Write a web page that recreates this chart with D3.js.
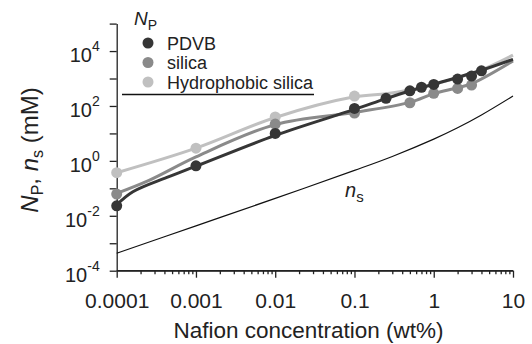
<!DOCTYPE html>
<html lang="en">
<head>
<meta charset="utf-8">
<title>Nafion concentration</title>
<style>
  body { margin: 0; background: #fff; }
  svg text { font-family: "Liberation Sans", Arial, sans-serif; fill: #222; }
  .axis path, .axis line { stroke: #222; stroke-width: 1.3; }
</style>
</head>
<body>
<svg id="chart" width="532" height="344"></svg>
<script src="https://d3js.org/d3.v7.min.js"></script>
<script>
// x tick labels
const xTickLabels = ['0.0001', '0.001', '0.01', '0.1', '1', '10'];

// measured points (wt%, mM)
const pdvbX = [0.0001, 0.001, 0.01, 0.1, 0.25, 0.5, 0.7, 1, 2, 3, 4];
const pdvbY = [0.023, 0.66, 10, 81, 190, 355, 480, 610, 955, 1230, 1900];
const silicaX = [0.0001, 0.01, 0.1, 0.5, 1, 2, 3];
const silicaY = [0.062, 22, 55, 131, 288, 437, 575];
const hydroX = [0.0001, 0.001, 0.01, 0.1];
const hydroY = [0.37, 2.9, 40, 230];

// fitted curves
const pdvbFit = [[1e-4, 0.025], [1.6e-4, 0.075], [4.3e-4, 0.25], [1e-3, 0.64], [0.01, 8.5], [0.1, 75], [0.25, 185], [0.5, 350], [1, 620], [4, 2000], [10, 5000]];
const silicaFit = [[1e-4, 0.066], [2.6e-4, 0.2], [1e-3, 1.4], [0.01, 21], [0.1, 58], [0.5, 135], [1, 280], [2, 460], [3, 650], [10, 4400]];
const hydroFit = [[1e-4, 0.37], [1e-3, 2.9], [0.01, 38], [0.1, 215], [0.25, 280], [0.5, 380], [1, 620], [2, 1050], [4, 2050], [10, 7100]];
const nsFit = [[1e-4, 4.3e-4], [1e-3, 0.0043], [0.01, 0.043], [0.1, 0.45], [0.3, 1.45], [1, 6.2], [2, 16], [4, 47], [10, 230]];

const legendNames = ['PDVB', 'silica', 'Hydrophobic silica'];
const colors = ['#363636', '#8a8a8a', '#c0c0c0'];

const svg = d3.select('#chart');

const x = d3.scaleLog().domain([1e-4, 10]).range([116.7, 513]);
const y = d3.scaleLog().domain([1e-4, 1e5]).range([270.7, 23.6]);

// x axis: major and minor ticks
const xMajor = [1e-4, 1e-3, 1e-2, 1e-1, 1, 10];
const xMinor = [];
for (let e = -4; e < 1; e++) {
  for (let m = 2; m <= 9; m++) xMinor.push(m * Math.pow(10, e));
}

svg.append('g')
  .attr('class', 'axis')
  .attr('transform', 'translate(0,270.7)')
  .call(d3.axisBottom(x).tickValues(xMinor).tickSize(3.5).tickSizeOuter(0).tickFormat(''));

const xAxis = svg.append('g')
  .attr('class', 'axis')
  .attr('transform', 'translate(0,270.7)')
  .call(d3.axisBottom(x).tickValues(xMajor).tickSize(7).tickSizeOuter(0)
    .tickFormat((d, i) => xTickLabels[i]));
xAxis.selectAll('text')
  .attr('y', 37.5)
  .attr('dy', 0)
  .style('font-size', '21px');
xAxis.select('.domain').remove();

// y axis
const yDecades = d3.range(-4, 6).map(e => Math.pow(10, e));
const yAxis = svg.append('g')
  .attr('class', 'axis')
  .attr('transform', 'translate(116.7,0)')
  .call(d3.axisLeft(y).tickValues(yDecades).tickSize(7).tickSizeOuter(0).tickFormat(''));

svg.append('line')
  .attr('x1', x(1e-4)).attr('x2', x(10))
  .attr('y1', 270.7).attr('y2', 270.7)
  .attr('stroke', '#222').attr('stroke-width', 1.3);

const yLabels = yAxis.selectAll('.ylab')
  .data(yDecades.filter(d => Math.round(Math.log10(d)) % 2 === 0))
  .join('text')
  .attr('class', 'ylab')
  .attr('text-anchor', 'end')
  .attr('y', d => y(d) + 11)
  .style('font-size', '20px');
yLabels.append('tspan')
  .attr('x', -17)
  .text('10');
yLabels.append('tspan')
  .attr('dy', -11)
  .style('font-size', '14px')
  .text(d => String(Math.round(Math.log10(d))));

// series
const line = d3.line()
  .x(d => x(d[0]))
  .y(d => y(d[1]))
  .curve(d3.curveCatmullRom.alpha(0.5));

// ns curve
svg.append('path')
  .datum(nsFit)
  .attr('d', line)
  .attr('fill', 'none')
  .attr('stroke', '#111')
  .attr('stroke-width', 1.2);

const series = [
  { fit: hydroFit, xs: hydroX, ys: hydroY, color: colors[2] },
  { fit: silicaFit, xs: silicaX, ys: silicaY, color: colors[1] },
  { fit: pdvbFit, xs: pdvbX, ys: pdvbY, color: colors[0] }
];

series.forEach(s => {
  svg.append('path')
    .datum(s.fit)
    .attr('d', line)
    .attr('fill', 'none')
    .attr('stroke', s.color)
    .attr('stroke-width', 3);
  svg.append('g')
    .selectAll('circle')
    .data(s.xs.map((v, i) => [v, s.ys[i]]))
    .join('circle')
    .attr('cx', d => x(d[0]))
    .attr('cy', d => y(d[1]))
    .attr('r', 5.5)
    .attr('fill', s.color);
});

// ns label
const nsLabel = svg.append('text')
  .attr('x', 345)
  .attr('y', 197)
  .style('font-size', '20px');
nsLabel.append('tspan').style('font-style', 'italic').text('n');
nsLabel.append('tspan').attr('dy', 5).style('font-size', '15px').text('s');

// legend
const legTitle = svg.append('text')
  .attr('x', 134)
  .attr('y', 25)
  .style('font-size', '19px');
legTitle.append('tspan').style('font-style', 'italic').text('N');
legTitle.append('tspan').attr('dy', 5).style('font-size', '14px').text('P');

const leg = svg.append('g')
  .selectAll('g')
  .data(legendNames)
  .join('g')
  .attr('transform', (d, i) => `translate(0,${43 + i * 19.5})`);
leg.append('circle')
  .attr('cx', 148)
  .attr('r', 5.5)
  .attr('fill', (d, i) => colors[i]);
leg.append('text')
  .attr('x', 167)
  .attr('y', 6.5)
  .style('font-size', '18px')
  .text(d => d);

svg.append('line')
  .attr('x1', 122).attr('x2', 314)
  .attr('y1', 94.5).attr('y2', 94.5)
  .attr('stroke', '#111').attr('stroke-width', 1.3);

// axis titles
svg.append('text')
  .attr('x', 308.5)
  .attr('y', 338)
  .attr('text-anchor', 'middle')
  .style('font-size', '22.5px')
  .text('Nafion concentration (wt%)');

const yTitle = svg.append('text')
  .attr('transform', 'translate(38,150) rotate(-90)')
  .attr('text-anchor', 'middle')
  .style('font-size', '24px');
yTitle.append('tspan').style('font-style', 'italic').text('N');
yTitle.append('tspan').attr('dy', 5).style('font-size', '16px').text('P');
yTitle.append('tspan').attr('dy', -5).text(', ');
yTitle.append('tspan').style('font-style', 'italic').text('n');
yTitle.append('tspan').attr('dy', 5).style('font-size', '16px').text('s');
yTitle.append('tspan').attr('dy', -5).text(' (mM)');
</script>
</body>
</html>
